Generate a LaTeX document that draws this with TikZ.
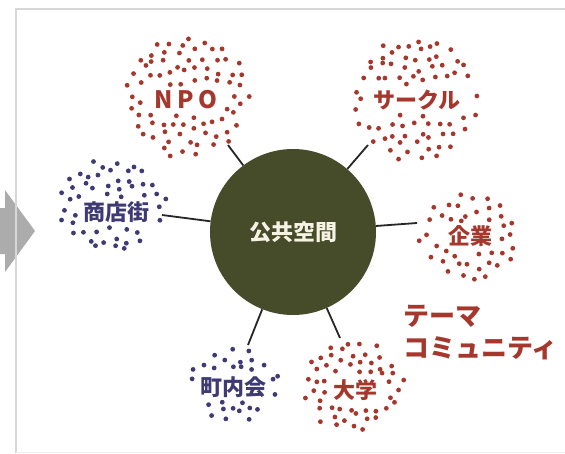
\documentclass[tikz,border=0pt]{standalone}
\usepackage{fontspec}
\newfontfamily\jp{Noto Sans CJK JP}
\definecolor{dred}{RGB}{165,55,45}
\definecolor{dblue}{RGB}{62,58,115}
\definecolor{pubgreen}{RGB}{70,76,42}
\definecolor{cream}{RGB}{246,242,228}
\definecolor{framegray}{RGB}{215,215,215}
\definecolor{arrowgray}{RGB}{172,172,172}
\def\dotcol{dred}
% #1 cx #2 cy #3 rx #4 ry #5 N #6 tx #7 ty #8 hw #9 hh
\newcommand\dotcluster[9]{%
  \foreach \i in {1,...,#5}{%
    \pgfmathsetmacro\dR{sqrt((\i-0.5)/#5)}%
    \pgfmathsetmacro\dT{\i*137.508}%
    \pgfmathsetmacro\dX{#1+#3*\dR*cos(\dT)+3*rand}%
    \pgfmathsetmacro\dY{#2+#4*\dR*sin(\dT)+3*rand}%
    \pgfmathtruncatemacro\dOK{((abs(\dX-#6)>#8) || (abs(\dY-#7)>#9)) ? 1 : 0}%
    \ifnum\dOK=1 \fill[\dotcol] (\dX,\dY) circle (2.4pt);\fi
  }%
}
\begin{document}
\begin{tikzpicture}[x=1pt,y=-1pt,
  conn/.style={draw=black!85, line width=1.8pt},
  redlab/.style={font=\jp\bfseries\fontsize{22}{26}\selectfont, text=dred, inner sep=0pt},
  bluelab/.style={font=\jp\bfseries\fontsize{22}{26}\selectfont, text=dblue, inner sep=0pt},
  themelab/.style={font=\jp\bfseries\fontsize{26}{30}\selectfont, text=dred, inner sep=0pt, anchor=west}]
\useasboundingbox (0,0) rectangle (565,453);
\fill[white] (0,0) rectangle (565,453);
% arrow and frame
\fill[arrowgray] (0,208) -- (5,208) -- (5,190) -- (35,231) -- (5,272) -- (5,254) -- (0,254) -- cycle;
\draw[framegray, line width=2pt] (16,453) -- (16,9) -- (565,9);
\draw[black!6, line width=1pt] (16,452.5) -- (565,452.5);
% central node
\node[circle, fill=pubgreen, minimum size=166pt, inner sep=0pt,
      font=\jp\bfseries\fontsize{22}{26}\selectfont, text=cream] (pub) at (293,232) {公共空間};
% connector ends
\coordinate (eNPO) at (228,145);
\coordinate (eCircle) at (368,145);
\coordinate (eShop) at (162,215);
\coordinate (eCorp) at (417,223);
\coordinate (eTown) at (248,345);
\coordinate (eUniv) at (340,338);
\draw[conn] (pub) -- (eNPO);
\draw[conn] (pub) -- (eCircle);
\draw[conn] (pub) -- (eShop);
\draw[conn] (pub) -- (eCorp);
\draw[conn] (pub) -- (eTown);
\draw[conn] (pub) -- (eUniv);
% dot clusters
\def\dotcol{dred}
\pgfmathsetseed{11}
\dotcluster{187}{96}{63}{61}{96}{186}{100}{40}{15}
\pgfmathsetseed{23}
\dotcluster{415}{98}{63}{62}{100}{417}{100}{50}{15}
\pgfmathsetseed{37}
\dotcluster{470}{237}{50}{44}{54}{470}{236}{30}{15}
\pgfmathsetseed{41}
\dotcluster{353}{386}{50}{44}{70}{355}{390}{30}{15}
\def\dotcol{dblue}
\pgfmathsetseed{53}
\dotcluster{112}{205}{53}{47}{68}{115}{212}{39}{15}
\pgfmathsetseed{67}
\dotcluster{234}{384}{45}{37}{48}{233}{387}{40}{14}
% labels
\node[redlab, font=\jp\bfseries\fontsize{24}{28}\selectfont] (npo) at (186,100) {N\hspace{5pt}P\hspace{5pt}O};
\node[redlab] (circlelab) at (417,100) {サークル};
\node[redlab] (corp) at (470,236) {企業};
\node[redlab] (univ) at (355,390) {大学};
\node[bluelab] (shop) at (116,212) {商店街};
\node[bluelab] (town) at (233,387) {町内会};
\node[themelab] (theme1) at (403,316) {テーマ};
\node[themelab] (theme2) at (403,348) {コミュニティ};
\end{tikzpicture}
\end{document}
